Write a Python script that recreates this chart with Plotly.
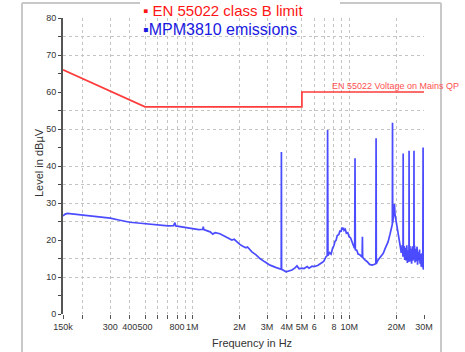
import plotly.graph_objects as go
import math

# ---------------- data ----------------
limit_freq_mhz = [0.15, 0.5, 5.0, 5.0, 30.0]
limit_level_db = [66, 56, 56, 60, 60]

emis_freq_mhz = [
    0.150, 0.155, 0.160, 0.175, 0.200, 0.230, 0.260, 0.300, 0.340, 0.400,
    0.450, 0.500, 0.540, 0.600, 0.700, 0.760, 0.775, 0.785, 0.850, 0.930,
    1.000, 1.086, 1.100, 1.168, 1.175, 1.185, 1.300, 1.353, 1.400, 1.500,
    1.600, 1.700, 1.790, 1.850, 1.950, 2.010, 2.100, 2.200, 2.250, 2.400,
    2.550, 2.700, 2.900, 3.130, 3.400, 3.620, 3.690, 3.700, 3.710, 3.960,
    4.100, 4.320, 4.500, 4.650, 4.800, 5.000, 5.160, 5.400, 5.550, 5.800,
    5.970, 6.300, 6.720, 6.900, 7.120, 7.250, 7.290, 7.330, 7.500, 7.670,
    7.850, 8.000, 8.120, 8.250, 8.400, 8.600, 8.750, 8.880, 9.000, 9.100,
    9.200, 9.280, 9.450, 9.600, 9.800, 9.990, 10.20, 10.40, 10.60, 10.75,
    10.85, 10.90, 10.95, 11.20, 11.40, 11.70, 12.10, 12.15, 12.20, 12.60,
    13.00, 13.50, 14.00, 14.40, 14.80, 14.85, 14.90, 15.30, 16.00, 16.50,
    17.00, 17.70, 18.20, 18.85, 18.90, 18.95, 19.30, 19.45, 19.60, 20.20,
    20.80, 21.20, 21.50, 21.80, 22.05, 22.10, 22.15, 22.40, 22.60, 22.80,
    23.00, 23.30, 23.50, 23.80, 24.05, 24.10, 24.15, 24.40, 24.60, 24.80,
    25.00, 25.30, 25.50, 25.85, 25.90, 25.95, 26.10, 26.30, 26.60, 26.80,
    27.10, 27.30, 27.60, 27.80, 28.10, 28.30, 28.60, 28.80, 29.00, 29.20,
    29.40, 29.50, 29.60, 29.70, 29.80, 29.90, 30.00,
]
emis_level_db = [
    26.5, 27.0, 27.2, 27.0, 26.7, 26.5, 26.2, 25.9, 25.4, 24.8,
    24.6, 24.4, 24.3, 24.1, 23.8, 23.9, 24.7, 23.8, 23.6, 23.2,
    23.0, 22.9, 22.8, 22.9, 23.6, 22.8, 22.2, 21.6, 22.0, 21.7,
    21.0, 20.5, 20.0, 20.2, 19.2, 18.8, 18.3, 17.9, 18.1, 16.8,
    16.0, 15.0, 14.1, 13.2, 12.6, 12.2, 12.1, 43.8, 12.1, 11.4,
    11.6, 11.9, 12.4, 13.0, 12.2, 12.4, 12.3, 12.8, 12.4, 12.9,
    12.8, 13.1, 13.9, 14.3, 15.5, 15.8, 49.7, 15.8, 16.6, 16.2,
    17.8, 18.5, 19.6, 19.9, 21.2, 21.5, 22.6, 22.2, 23.4, 22.8,
    23.3, 22.6, 22.9, 21.8, 22.0, 20.9, 20.6, 19.5, 19.0, 18.0,
    17.8, 42.1, 17.4, 17.2, 16.2, 16.0, 15.4, 20.9, 15.3, 14.6,
    14.2, 13.4, 13.2, 13.4, 13.6, 47.5, 13.6, 14.6, 15.6, 16.4,
    17.8, 19.5, 21.5, 24.3, 51.7, 24.6, 27.5, 29.7, 27.0, 23.2,
    19.5, 18.0, 16.5, 18.6, 15.5, 43.4, 15.8, 18.4, 14.6, 17.9,
    14.5, 18.6, 13.8, 17.2, 14.1, 44.1, 15.0, 18.4, 14.2, 17.6,
    13.6, 18.3, 14.4, 16.8, 44.1, 15.0, 18.5, 13.9, 17.6, 14.3,
    18.2, 13.3, 16.8, 14.5, 17.4, 13.6, 16.2, 12.8, 15.7, 16.5,
    12.6, 14.8, 45.0, 12.0, 16.0, 12.2, 12.6,
]

x_tick_vals = [0.15, 0.2, 0.3, 0.4, 0.5, 0.6, 0.7, 0.8, 0.9, 1, 2, 3, 4, 5, 6, 7, 8, 9, 10, 20, 30]
x_tick_text = ["150k", "", "300", "400", "500", "", "", "800", "", "1M", "2M", "3M", "4M", "5M",
               "6", "", "8", "", "10M", "20M", "30M"]
y_tick_vals = [0, 5, 10, 15, 20, 25, 30, 35, 40, 45, 50, 55, 60, 65, 70, 75, 80]
y_tick_text = ["0", "", "10", "", "20", "", "30", "", "40", "", "50", "", "60", "", "70", "", "80"]
y_grid_vals = [10, 15, 25, 30, 35, 40, 50, 55, 70, 75]

# ---------------- layout geometry (pixels) ----------------
W, H = 465, 352
L, R, T, B = 63, 41, 18, 38
pw, ph = W - L - R, H - T - B


def px(x):
    return (x - L) / pw


def py(y):
    return (H - B - y) / ph


fig = go.Figure()
fig.add_trace(go.Scatter(x=limit_freq_mhz, y=limit_level_db, mode="lines",
                         line=dict(color="rgb(255,60,60)", width=1.7),
                         showlegend=False, hoverinfo="skip"))
fig.add_trace(go.Scatter(x=emis_freq_mhz, y=emis_level_db, mode="lines", yaxis="y2",
                         line=dict(color="rgba(55,55,255,0.9)", width=1.7),
                         showlegend=False, hoverinfo="skip"))

fnt = "Liberation Sans, Arial, sans-serif"
fig.update_layout(
    width=W, height=H,
    margin=dict(l=L, r=R, t=T, b=B),
    paper_bgcolor="white", plot_bgcolor="white",
    font=dict(family=fnt, size=9, color="#333333"),
    xaxis=dict(type="log", range=[math.log10(0.15), math.log10(30)],
               tickvals=x_tick_vals, ticktext=x_tick_text, tickangle=0,
               ticks="outside", ticklen=4, tickcolor="#555555",
               showline=False, zeroline=False,
               showgrid=True, gridcolor="#c4c4c4", griddash="dot", gridwidth=1,
               tickfont=dict(size=9, color="#333333")),
    yaxis=dict(range=[0, 80], tickvals=y_grid_vals, showticklabels=False, ticks="",
               showgrid=True, gridcolor="#c4c4c4", griddash="dot", gridwidth=1,
               zeroline=False, showline=False),
    yaxis2=dict(range=[0, 80], overlaying="y", side="left", tickvals=y_tick_vals,
                ticktext=y_tick_text, ticks="outside", ticklen=3, tickcolor="#444444",
                showline=True, linecolor="#555555", linewidth=2, showgrid=False,
                zeroline=False, tickfont=dict(size=9, color="#333333")),
    showlegend=False,
)

# frame around the chart (grey), interrupted by the legend at the top
frame_col = "#c8c8c8"
shapes = [
    dict(type="line", xref="paper", yref="paper", x0=px(22), x1=px(22), y0=py(3), y1=py(360)),
    dict(type="line", xref="paper", yref="paper", x0=px(441), x1=px(441), y0=py(3), y1=py(360)),
    dict(type="line", xref="paper", yref="paper", x0=px(22), x1=px(140), y0=py(3), y1=py(3)),
    dict(type="line", xref="paper", yref="paper", x0=px(340), x1=px(441), y0=py(3), y1=py(3)),
]
for s in shapes:
    s["line"] = dict(color=frame_col, width=2)
    s["layer"] = "below"
fig.update_layout(shapes=shapes)

ann = [
    dict(text="▪ EN 55022 class B limit", x=px(141), y=py(11), xanchor="left", yanchor="middle",
         font=dict(size=15, color="rgb(255,20,20)", family=fnt)),
    dict(text="▪MPM3810 emissions", x=px(141), y=py(29), xanchor="left", yanchor="middle",
         font=dict(size=16, color="rgb(25,25,225)", family=fnt)),
    dict(text="EN 55022 Voltage on Mains QP", x=px(330), y=py(86), xanchor="left", yanchor="middle",
         font=dict(size=9, color="rgb(255,80,80)", family=fnt)),
    dict(text="Level in dBµV", x=px(39), y=py(163), textangle=-90, xanchor="center",
         yanchor="middle", font=dict(size=11, color="#333333", family=fnt)),
    dict(text="Frequency in Hz", x=px(252), y=py(343), xanchor="center", yanchor="middle",
         font=dict(size=11, color="#333333", family=fnt)),
]
for a in ann:
    a.update(xref="paper", yref="paper", showarrow=False)
fig.update_layout(annotations=ann)

fig.write_html("out.html")
